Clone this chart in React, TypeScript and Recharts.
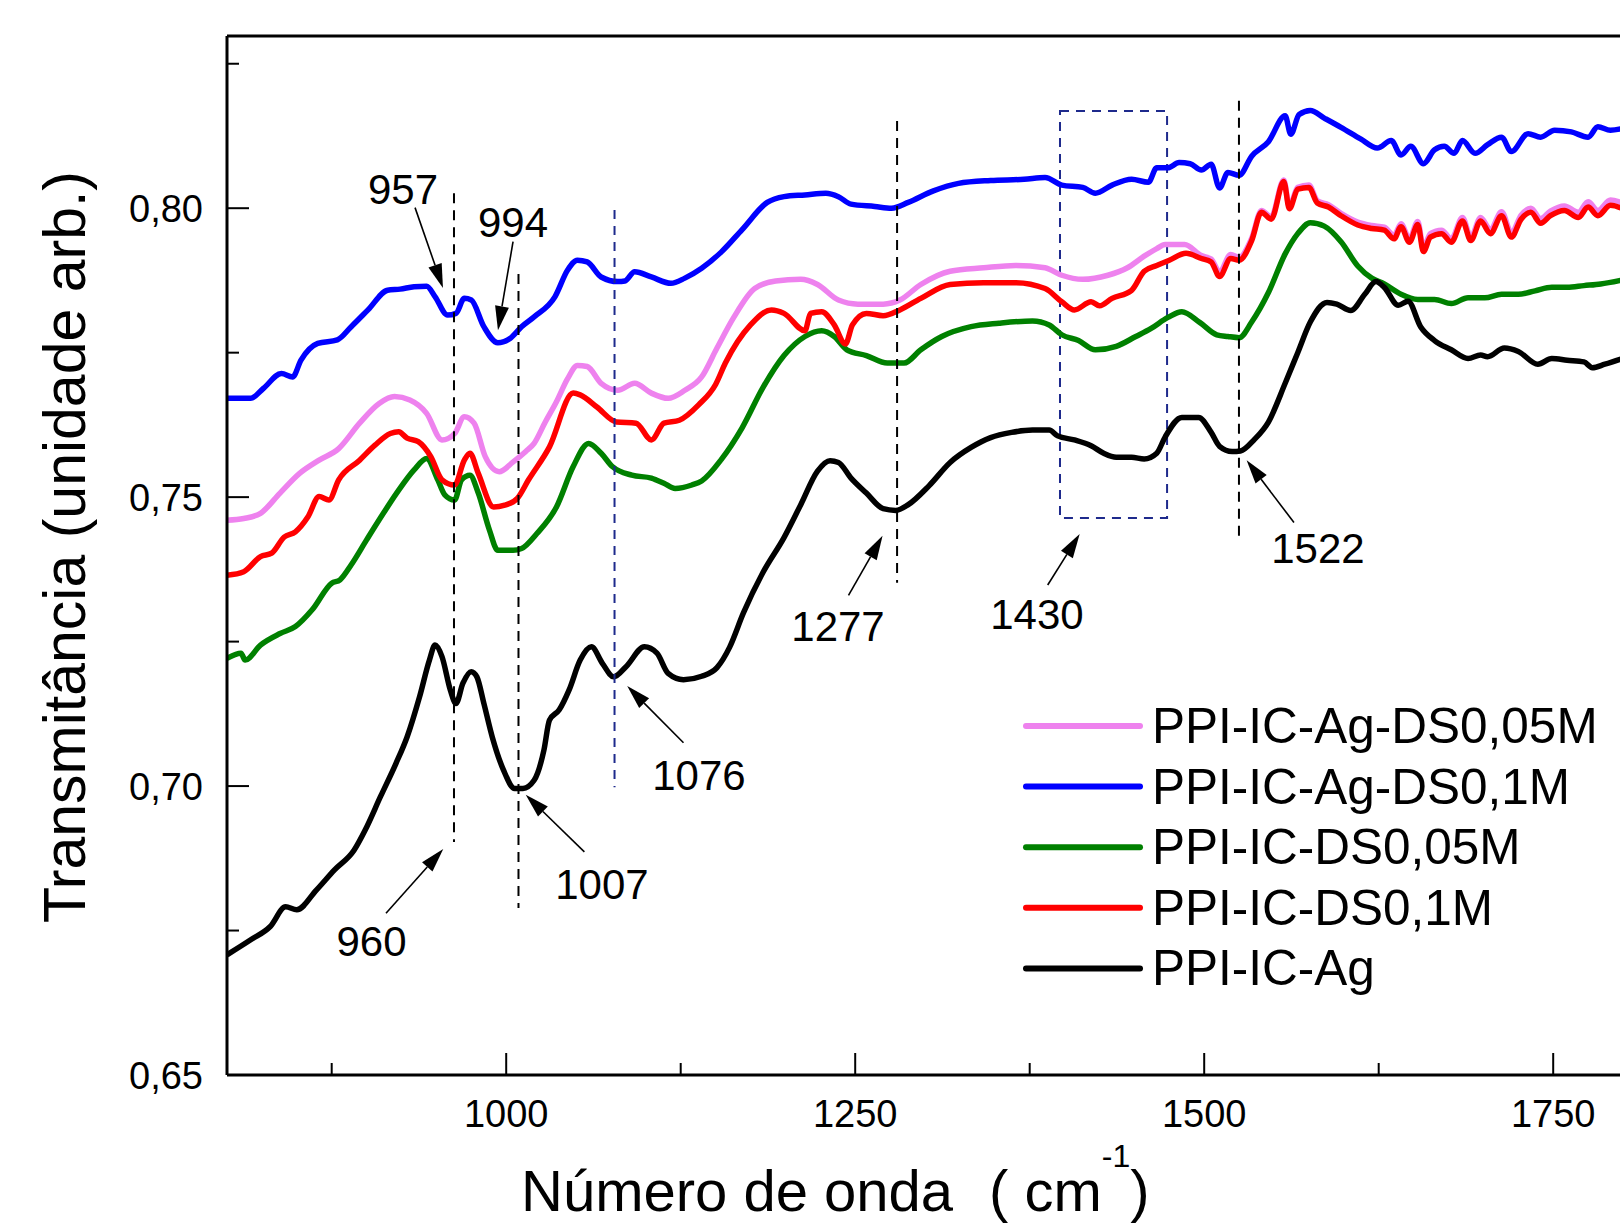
import React from 'react';
import { LineChart, Line, XAxis, YAxis, ReferenceLine, ReferenceArea, ReferenceDot, Legend, Label } from 'recharts';

const FONT = '"Liberation Sans", Arial, Helvetica, sans-serif';

// ---------- series ----------
const seriesNames = ['PPI-IC-Ag-DS0,05M', 'PPI-IC-Ag-DS0,1M', 'PPI-IC-DS0,05M', 'PPI-IC-DS0,1M', 'PPI-IC-Ag'];
const seriesColors = ['#EE82EE', '#0000FF', '#008000', '#FF0000', '#000000'];

// [wavenumber (cm-1), transmittance]
const pinkSpectrum = [
  [800,0.7460],[812,0.7463],[824,0.7472],[838,0.7507],[852,0.7541],[866,0.7564],[880,0.7584],[895,0.7628],[909,0.7662],[920,0.7674],
  [931,0.7668],[943,0.7645],[954,0.7599],[963,0.7610],[970,0.7639],[977,0.7628],[985,0.7570],[995,0.7544],[1005,0.7561],[1014,0.7579],
  [1020,0.7593],[1028,0.7630],[1036,0.7665],[1044,0.7705],[1051,0.7728],[1058,0.7726],[1068,0.7697],[1080,0.7685],[1092,0.7697],[1104,0.7680],
  [1116,0.7671],[1128,0.7685],[1140,0.7708],[1151,0.7758],[1163,0.7811],[1178,0.7861],[1193,0.7874],[1211,0.7877],[1223,0.7868],[1238,0.7841],
  [1252,0.7834],[1270,0.7834],[1282,0.7841],[1297,0.7868],[1318,0.7891],[1342,0.7897],[1365,0.7901],[1386,0.7897],[1398,0.7884],[1413,0.7877],
  [1431,0.7884],[1445,0.7897],[1457,0.7917],[1466,0.7930],[1472,0.7937],[1486,0.7937],[1498,0.7918],[1505,0.7912],[1511,0.7890],[1519,0.7920],
  [1525,0.7915],[1534,0.7948],[1541,0.7996],[1548,0.7985],[1557,0.8049],[1561,0.8003],[1567,0.8036],[1575,0.8040],[1581,0.8013],[1589,0.8006],
  [1598,0.7991],[1610,0.7976],[1620,0.7970],[1629,0.7967],[1636,0.7953],[1641,0.7973],[1647,0.7947],[1653,0.7977],[1657,0.7932],[1662,0.7956],
  [1670,0.7962],[1677,0.7947],[1685,0.7984],[1691,0.7950],[1698,0.7984],[1705,0.7963],[1713,0.7994],[1720,0.7958],[1727,0.7988],[1734,0.8000],
  [1741,0.7982],[1748,0.7995],[1758,0.8004],[1768,0.7993],[1775,0.8011],[1782,0.7996],[1791,0.8014],[1800,0.8009],
];

const blueSpectrum = [
  [800,0.7671],[817,0.7671],[826,0.7688],[839,0.7714],[847,0.7708],[853,0.7737],[865,0.7766],[879,0.7772],[889,0.7795],[901,0.7824],
  [915,0.7858],[924,0.7860],[934,0.7864],[943,0.7865],[949,0.7847],[958,0.7815],[964,0.7818],[970,0.7844],[975,0.7841],[984,0.7795],
  [994,0.7767],[1003,0.7775],[1011,0.7795],[1020,0.7812],[1035,0.7847],[1044,0.7893],[1051,0.7910],[1058,0.7907],[1068,0.7881],[1080,0.7873],
  [1085,0.7874],[1092,0.7890],[1104,0.7881],[1118,0.7870],[1128,0.7879],[1140,0.7896],[1154,0.7924],[1169,0.7963],[1187,0.8010],[1199,0.8020],
  [1214,0.8023],[1229,0.8026],[1238,0.8020],[1247,0.8007],[1264,0.8003],[1276,0.8000],[1288,0.8010],[1306,0.8030],[1324,0.8043],[1347,0.8048],
  [1371,0.8050],[1386,0.8053],[1398,0.8040],[1413,0.8036],[1422,0.8026],[1434,0.8040],[1448,0.8050],[1460,0.8045],[1466,0.8070],[1474,0.8070],
  [1482,0.8079],[1490,0.8077],[1498,0.8066],[1505,0.8076],[1511,0.8035],[1517,0.8062],[1525,0.8057],[1534,0.8090],[1546,0.8115],[1558,0.8160],
  [1562,0.8128],[1568,0.8162],[1576,0.8169],[1586,0.8156],[1598,0.8140],[1612,0.8120],[1624,0.8104],[1634,0.8117],[1641,0.8092],[1648,0.8107],
  [1657,0.8077],[1665,0.8101],[1672,0.8107],[1679,0.8095],[1685,0.8117],[1694,0.8095],[1703,0.8110],[1713,0.8123],[1720,0.8098],[1732,0.8129],
  [1741,0.8123],[1751,0.8135],[1763,0.8132],[1775,0.8123],[1782,0.8141],[1791,0.8135],[1800,0.8138],
];

const greenSpectrum = [
  [800,0.7221],[810,0.7230],[813,0.7218],[824,0.7244],[838,0.7264],[849,0.7276],[861,0.7305],[875,0.7351],[881,0.7357],[889,0.7383],
  [900,0.7426],[912,0.7472],[923,0.7512],[934,0.7547],[943,0.7567],[951,0.7530],[956,0.7504],[963,0.7495],[968,0.7530],[974,0.7538],
  [980,0.7507],[988,0.7443],[994,0.7408],[1005,0.7408],[1011,0.7411],[1022,0.7437],[1036,0.7483],[1048,0.7553],[1059,0.7593],[1068,0.7576],
  [1076,0.7553],[1090,0.7538],[1104,0.7533],[1113,0.7524],[1121,0.7515],[1133,0.7521],[1140,0.7528],[1154,0.7565],[1169,0.7620],[1184,0.7690],
  [1199,0.7745],[1214,0.7778],[1226,0.7788],[1235,0.7778],[1244,0.7755],[1258,0.7745],[1273,0.7732],[1285,0.7732],[1297,0.7755],[1312,0.7778],
  [1333,0.7795],[1353,0.7801],[1377,0.7805],[1389,0.7798],[1398,0.7781],[1410,0.7771],[1422,0.7755],[1437,0.7761],[1451,0.7778],[1462,0.7792],
  [1474,0.7811],[1484,0.7821],[1497,0.7802],[1509,0.7781],[1517,0.7778],[1525,0.7776],[1534,0.7803],[1546,0.7854],[1558,0.7921],[1567,0.7956],
  [1576,0.7975],[1586,0.7969],[1598,0.7942],[1610,0.7900],[1620,0.7879],[1629,0.7869],[1641,0.7851],[1653,0.7842],[1665,0.7842],[1677,0.7835],
  [1689,0.7845],[1701,0.7845],[1713,0.7851],[1725,0.7851],[1737,0.7857],[1749,0.7863],[1760,0.7863],[1772,0.7866],[1784,0.7869],[1800,0.7876],
];

const redSpectrum = [
  [800,0.7365],[812,0.7371],[824,0.7397],[832,0.7403],[841,0.7431],[849,0.7440],[858,0.7466],[866,0.7501],[873,0.7495],[880,0.7530],
  [895,0.7564],[906,0.7590],[917,0.7610],[923,0.7613],[929,0.7602],[937,0.7596],[946,0.7570],[954,0.7530],[963,0.7521],[970,0.7564],
  [974,0.7576],[980,0.7541],[991,0.7483],[999,0.7486],[1008,0.7498],[1016,0.7530],[1031,0.7587],[1048,0.7680],[1053,0.7677],[1065,0.7656],
  [1079,0.7630],[1093,0.7628],[1104,0.7599],[1113,0.7628],[1124,0.7633],[1138,0.7660],[1150,0.7695],[1157,0.7732],[1175,0.7798],[1190,0.7824],
  [1199,0.7818],[1214,0.7788],[1218,0.7818],[1226,0.7821],[1235,0.7798],[1243,0.7765],[1248,0.7798],[1258,0.7818],[1270,0.7814],[1282,0.7824],
  [1297,0.7844],[1318,0.7868],[1342,0.7871],[1365,0.7871],[1386,0.7861],[1398,0.7838],[1407,0.7824],[1419,0.7838],[1425,0.7831],[1434,0.7844],
  [1448,0.7858],[1457,0.7891],[1466,0.7901],[1475,0.7910],[1487,0.7922],[1498,0.7913],[1505,0.7907],[1511,0.7882],[1519,0.7913],[1525,0.7910],
  [1534,0.7944],[1541,0.7993],[1548,0.7981],[1557,0.8046],[1561,0.7999],[1567,0.8033],[1575,0.8036],[1581,0.8009],[1589,0.8002],[1598,0.7987],
  [1610,0.7971],[1620,0.7965],[1629,0.7962],[1636,0.7947],[1641,0.7968],[1647,0.7941],[1653,0.7972],[1657,0.7925],[1662,0.7950],[1670,0.7956],
  [1677,0.7941],[1685,0.7978],[1691,0.7944],[1698,0.7978],[1705,0.7956],[1713,0.7987],[1720,0.7950],[1727,0.7981],[1734,0.7993],[1741,0.7974],
  [1748,0.7987],[1758,0.7996],[1768,0.7984],[1775,0.8002],[1782,0.7987],[1791,0.8005],[1800,0.7999],
];

const blackSpectrum = [
  [800,0.6708],[817,0.6734],[831,0.6757],[842,0.6791],[850,0.6786],[864,0.6820],[877,0.6855],[891,0.6889],[899,0.6924],[910,0.6982],
  [921,0.7039],[929,0.7085],[938,0.7155],[945,0.7218],[949,0.7244],[954,0.7224],[960,0.7166],[964,0.7143],[969,0.7178],[975,0.7198],
  [979,0.7189],[984,0.7143],[990,0.7085],[998,0.7028],[1006,0.6996],[1012,0.6996],[1020,0.7010],[1027,0.7062],[1031,0.7114],[1038,0.7132],
  [1045,0.7166],[1053,0.7218],[1061,0.7241],[1069,0.7212],[1077,0.7189],[1086,0.7207],[1099,0.7241],[1108,0.7230],[1116,0.7195],[1127,0.7184],
  [1140,0.7190],[1151,0.7205],[1160,0.7240],[1170,0.7300],[1184,0.7370],[1199,0.7430],[1211,0.7487],[1223,0.7545],[1232,0.7563],[1238,0.7560],
  [1247,0.7533],[1258,0.7507],[1270,0.7480],[1279,0.7477],[1288,0.7487],[1303,0.7520],[1318,0.7560],[1333,0.7586],[1347,0.7603],[1362,0.7612],
  [1377,0.7616],[1389,0.7616],[1395,0.7606],[1407,0.7599],[1419,0.7589],[1428,0.7576],[1437,0.7569],[1448,0.7569],[1457,0.7566],[1466,0.7576],
  [1472,0.7604],[1484,0.7638],[1496,0.7638],[1505,0.7612],[1511,0.7588],[1520,0.7579],[1526,0.7580],[1536,0.7600],[1546,0.7630],[1558,0.7697],
  [1567,0.7750],[1576,0.7803],[1588,0.7837],[1595,0.7834],[1605,0.7823],[1615,0.7851],[1623,0.7873],[1629,0.7863],[1639,0.7832],[1646,0.7839],
  [1655,0.7795],[1665,0.7771],[1677,0.7755],[1689,0.7740],[1698,0.7746],[1703,0.7743],[1715,0.7758],[1725,0.7752],[1739,0.7730],[1749,0.7740],
  [1760,0.7737],[1772,0.7734],[1778,0.7724],[1787,0.7730],[1800,0.7740],
];

const spectra = [pinkSpectrum, blueSpectrum, greenSpectrum, redSpectrum, blackSpectrum];

// ---------- axes ----------
const xDomain = [800, 1800];
const yDomain = [0.65, 0.8298];
const xMajorTicks = [1000, 1250, 1500, 1750];
const xMinorTicks = [875, 1125, 1375, 1625];
const yMajorTicks = [0.65, 0.70, 0.75, 0.80];
const yMinorTicks = [0.675, 0.725, 0.775, 0.825];

// ---------- annotations (data coordinates) ----------
const blackGuides = [
  { x: 962.6, y1: 0.8026, y2: 0.6903 },
  { x: 1008.8, y1: 0.7886, y2: 0.6789 },
  { x: 1280, y1: 0.8151, y2: 0.7352 },
  { x: 1524.9, y1: 0.8186, y2: 0.7431 },
];
const blueGuides = [{ x: 1077.6, y1: 0.7997, y2: 0.6998 }];
const blueBox = { x1: 1396.7, x2: 1473.4, y1: 0.7464, y2: 0.8168 };
const arrows = [
  { x1: 934.7, y1: 0.8001, x2: 954.7, y2: 0.7862 },
  { x1: 1004.9, y1: 0.7942, x2: 994.1, y2: 0.7789 },
  { x1: 913.9, y1: 0.6780, x2: 954.9, y2: 0.6891 },
  { x1: 1056, y1: 0.6886, x2: 1014, y2: 0.6985 },
  { x1: 1127, y1: 0.7075, x2: 1086.7, y2: 0.7173 },
  { x1: 1245.2, y1: 0.7330, x2: 1269.6, y2: 0.7433 },
  { x1: 1387.9, y1: 0.7348, x2: 1410.8, y2: 0.7436 },
  { x1: 1564.3, y1: 0.7456, x2: 1530.4, y2: 0.7564 },
];
const bandLabels = [
  { text: '957', x: 926.1, y: 0.8033 },
  { text: '994', x: 1004.9, y: 0.7976 },
  { text: '960', x: 903.5, y: 0.6732 },
  { text: '1007', x: 1068.6, y: 0.6831 },
  { text: '1076', x: 1138.1, y: 0.7019 },
  { text: '1277', x: 1237.7, y: 0.7277 },
  { text: '1430', x: 1380.2, y: 0.7297 },
  { text: '1522', x: 1581.5, y: 0.7412 },
];

const xTitle = 'Número de onda';
const xUnit = 'cm';
const yTitle = 'Transmitância (unidade arb.)';

// ---------- renderers ----------
const XTick = (props: any) => {
  const { x, y, payload } = props;
  const v = payload.value;
  const major = xMajorTicks.includes(v);
  return (
    <g>
      <line x1={x} x2={x} y1={y} y2={y - (major ? 22 : 12)} stroke="#000" strokeWidth={2} />
      {major && (
        <text x={x} y={y + 52} textAnchor="middle" fontSize={38} fontFamily={FONT} fill="#000">
          {String(v)}
        </text>
      )}
    </g>
  );
};

const YTick = (props: any) => {
  const { x, y, payload } = props;
  const v = payload.value;
  const major = yMajorTicks.some((t) => Math.abs(t - v) < 1e-6);
  return (
    <g>
      <line x1={x} x2={x + (major ? 22 : 12)} y1={y} y2={y} stroke="#000" strokeWidth={2} />
      {major && (
        <text x={x - 24} y={y + 13.5} textAnchor="end" fontSize={38} fontFamily={FONT} fill="#000">
          {v.toFixed(2).replace('.', ',')}
        </text>
      )}
    </g>
  );
};

const XTitle = () => (
  <g fontFamily={FONT} fill="#000">
    <text x={521} y={1211} fontSize={58}>{xTitle}</text>
    <text x={989} y={1211} fontSize={58}>
      {'( ' + xUnit}
      <tspan dy={-44} fontSize={32}>-1</tspan>
      <tspan dy={44} fontSize={58}>)</tspan>
    </text>
  </g>
);

const YTitle = () => (
  <text
    transform="translate(85,547) rotate(-90)"
    textAnchor="middle"
    fontSize={59}
    fontFamily={FONT}
    fill="#000"
  >
    {yTitle}
  </text>
);

const ArrowShape = (p: any) => {
  const { x1, y1, x2, y2 } = p;
  const dx = x2 - x1;
  const dy = y2 - y1;
  const len = Math.hypot(dx, dy) || 1;
  const ux = dx / len;
  const uy = dy / len;
  const L = 24;
  const W = 7;
  const bx = x2 - ux * L;
  const by = y2 - uy * L;
  const px = -uy;
  const py = ux;
  return (
    <g>
      <line x1={x1} y1={y1} x2={bx} y2={by} stroke="#000" strokeWidth={1.6} />
      <polygon points={`${x2},${y2} ${bx + px * W},${by + py * W} ${bx - px * W},${by - py * W}`} fill="#000" />
    </g>
  );
};

const makeTextShape = (text: string) => (p: any) => (
  <text x={p.cx} y={p.cy + 15} textAnchor="middle" fontSize={42} fontFamily={FONT} fill="#000">
    {text}
  </text>
);

const renderLegend = () => (
  <svg width={620} height={320} style={{ display: 'block' }}>
    {seriesNames.map((n, i) => {
      const ly = 36 + 60.6 * i;
      return (
        <g key={n}>
          <line x1={26} x2={140} y1={ly} y2={ly} stroke={seriesColors[i]} strokeWidth={6} strokeLinecap="round" />
          <text x={152} y={ly + 17} fontSize={49.5} fontFamily={FONT} fill="#000">{n}</text>
        </g>
      );
    })}
  </svg>
);

export default function App() {
  const seriesData = spectra.map((s) => s.map(([x, y]) => ({ x, y })));
  return (
    <div style={{ position: 'fixed', left: 0, top: 0, width: 1620, height: 1225, overflow: 'hidden', background: '#fff' }}>
      <LineChart width={1640} height={1225} margin={{ top: 36, right: 17, bottom: 0, left: 0 }}>
        <XAxis
          dataKey="x"
          type="number"
          domain={xDomain}
          allowDataOverflow
          ticks={[...xMinorTicks, ...xMajorTicks].sort((a, b) => a - b)}
          interval={0}
          tickSize={0}
          tickMargin={0}
          tickLine={false}
          axisLine={{ stroke: '#000', strokeWidth: 3 }}
          tick={XTick}
          height={150}
        >
          <Label content={XTitle} />
        </XAxis>
        <YAxis
          type="number"
          domain={yDomain}
          allowDataOverflow
          ticks={[...yMajorTicks, ...yMinorTicks].sort((a, b) => a - b)}
          interval={0}
          tickSize={0}
          tickMargin={0}
          tickLine={false}
          axisLine={{ stroke: '#000', strokeWidth: 3 }}
          tick={YTick}
          width={227}
        >
          <Label content={YTitle} />
        </YAxis>

        {seriesData.map((d, i) => (
          <Line
            key={seriesNames[i]}
            data={d}
            dataKey="y"
            name={seriesNames[i]}
            type="monotone"
            stroke={seriesColors[i]}
            strokeWidth={5.5}
            dot={false}
            activeDot={false}
            isAnimationActive={false}
          />
        ))}

        <ReferenceLine y={yDomain[1]} stroke="#000" strokeWidth={3} />
        <ReferenceLine x={xDomain[1]} stroke="#000" strokeWidth={3} />

        {blackGuides.map((g, i) => (
          <ReferenceLine
            key={'bg' + i}
            segment={[{ x: g.x, y: g.y1 }, { x: g.x, y: g.y2 }]}
            stroke="#000"
            strokeWidth={2}
            strokeDasharray="10 7"
          />
        ))}
        {blueGuides.map((g, i) => (
          <ReferenceLine
            key={'blg' + i}
            segment={[{ x: g.x, y: g.y1 }, { x: g.x, y: g.y2 }]}
            stroke="#1E2A8C"
            strokeWidth={2}
            strokeDasharray="9 7"
          />
        ))}
        <ReferenceArea
          x1={blueBox.x1}
          x2={blueBox.x2}
          y1={blueBox.y1}
          y2={blueBox.y2}
          fill="none"
          fillOpacity={0}
          stroke="#1E2A8C"
          strokeWidth={2}
          strokeDasharray="9 7"
        />
        {arrows.map((a, i) => (
          <ReferenceLine
            key={'ar' + i}
            segment={[{ x: a.x1, y: a.y1 }, { x: a.x2, y: a.y2 }]}
            shape={ArrowShape}
          />
        ))}
        {bandLabels.map((b) => (
          <ReferenceDot key={b.text} x={b.x} y={b.y} r={0} fill="none" stroke="none" shape={makeTextShape(b.text)} />
        ))}

        <Legend
          content={renderLegend}
          layout="vertical"
          align="center"
          verticalAlign="middle"
          wrapperStyle={{ left: 1000, top: 690, width: 620, height: 320 }}
        />
      </LineChart>
    </div>
  );
}
